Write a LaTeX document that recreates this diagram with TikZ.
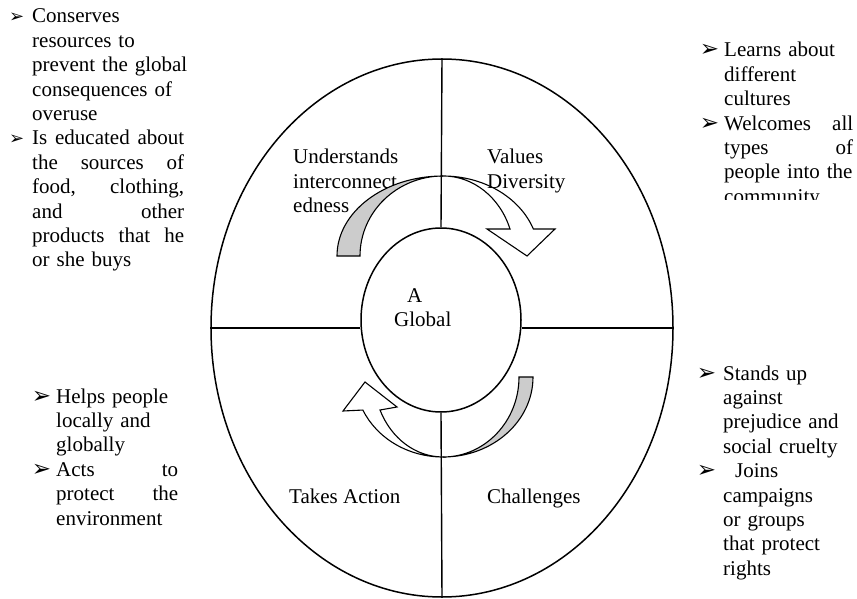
\documentclass[tikz,border=0pt]{standalone}
\usepackage{fontspec}
\setmainfont{Liberation Serif}
\newfontfamily\dingfont{DejaVu Sans}
\usetikzlibrary{shapes.geometric}
\definecolor{tailgray}{RGB}{204,204,204}
\newcommand{\bul}[2]{\leavevmode\llap{{\dingfont\fontsize{#1}{#1}\selectfont ➢}\hspace{#2}}}
\newcommand{\jl}[2]{\makebox[#1][l]{#2}}

\begin{document}
\begin{tikzpicture}[x=1pt,y=-1pt,
  ring/.style={draw,ellipse,line width=1.5pt,inner sep=0pt},
  tag/.style={font=\fontsize{21}{24.4}\selectfont,inner sep=0pt,anchor=base west,align=left},
  turn/.style={line width=1.1pt,line join=miter}
]
\useasboundingbox (0,0) rectangle (857,599);
\node[ring,minimum width=462pt,minimum height=538pt] (outer) at (442,328) {};
\node[ring,minimum width=160pt,minimum height=184pt] (inner) at (441,320) {};
\draw[line width=1.4pt] (outer.north) -- (inner.north);
\draw[line width=1.4pt] (inner.south) -- (outer.south);
\draw[line width=1.4pt] (outer.west) -- (outer.west -| inner.west);
\draw[line width=1.4pt] (outer.east) -- (outer.east -| inner.east);

% side notes
\node[tag,text width=200pt] (conserve) at (32,23) {\bul{18}{8pt}Conserves\\
  resources to\\ prevent the global\\ consequences of\\ overuse\\
  \bul{18}{8pt}\jl{152pt}{Is\hfill educated\hfill about}\\ \jl{152pt}{the\hfill sources\hfill of}\\
  \jl{152pt}{food,\hfill clothing,}\\ \jl{152pt}{and\hfill other}\\
  \jl{152pt}{products\hfill that\hfill he}\\ or she buys};
\begin{scope}
  \clip (690,0) rectangle (857,199);
  \node[tag,text width=200pt] (learn) at (724,57) {\bul{23}{5pt}Learns about\\
    different\\ cultures\\ \bul{23}{5pt}\jl{129pt}{Welcomes\hfill all}\\ \jl{129pt}{types\hfill of}\\
    people into the\\ community};
\end{scope}
\node[tag,text width=200pt] (helps) at (56,403) {\bul{23}{5pt}Helps people\\
  locally and\\ globally\\ \bul{23}{5pt}\jl{122pt}{Acts\hfill to}\\ \jl{122pt}{protect\hfill the}\\ environment};
\node[tag,text width=200pt] (stands) at (723,380) {\bul{23}{7pt}Stands up\\
  against\\ prejudice and\\ social cruelty\\ \bul{23}{7pt}\hspace*{12pt}Joins\\
  campaigns\\ or groups\\ that protect\\ rights};

% quadrant labels
\node[tag,text width=110pt] (under) at (293,164) {Understands\\ interconnect\\ edness};

% upper turn
\filldraw[turn,fill=white] (443,176) arc[start angle=270,end angle=340.3,x radius=96,y radius=80]
  -- (555,229) -- (527,256) -- (487,229) -- (510,229)
  arc[start angle=340.3,end angle=270,x radius=71,y radius=80] -- cycle;
\filldraw[turn,fill=tailgray] (337,256) arc[start angle=180,end angle=270,x radius=106,y radius=80]
  arc[start angle=270,end angle=180,x radius=83,y radius=80] -- cycle;

% lower turn
\filldraw[turn,fill=white] (443,457) arc[start angle=90,end angle=155.6,x radius=88,y radius=80]
  -- (343,411) -- (365,382) -- (397,407) -- (380,410)
  arc[start angle=155.6,end angle=90,x radius=69,y radius=80] -- cycle;
\filldraw[turn,fill=tailgray] (533,377) arc[start angle=0,end angle=90,x radius=90,y radius=80]
  arc[start angle=90,end angle=0,x radius=76,y radius=80] -- cycle;

\node[tag,text width=85pt] (values) at (487,164) {Values\\ Diversity};
\node[tag,text width=70pt] (citizen) at (394,302) {\hspace*{13pt}A\\ Global};
\node[tag] (action) at (289,503) {Takes Action};
\node[tag] (challenge) at (487,503) {Challenges};
\end{tikzpicture}
\end{document}
